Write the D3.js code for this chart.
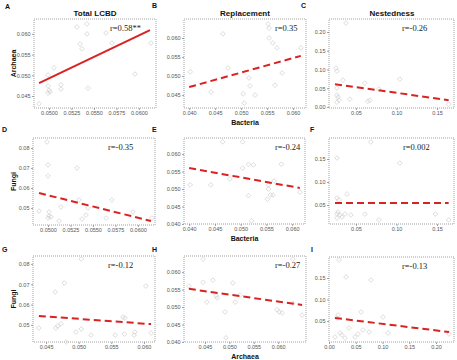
<!DOCTYPE html>
<html>
<head>
<meta charset="utf-8">
<script src="https://cdn.jsdelivr.net/npm/d3@7"></script>
<style>
  body { margin: 0; background: #fff; }
  svg { display: block; }
</style>
</head>
<body>
<div id="chart"></div>
<script>
// Panel data: [x, y] pairs
const ptsA = [[0.04889,0.0431],[0.04989,0.0501],[0.04989,0.0474],[0.0500,0.0464],[0.05011,0.0460],[0.04989,0.0457],[0.05055,0.0518],[0.05133,0.0477],[0.05133,0.0467],[0.05311,0.0617],[0.05345,0.0576],[0.05367,0.0564],[0.05422,0.0624],[0.05422,0.0600],[0.05434,0.0469],[0.05634,0.0602],[0.05700,0.0578],[0.05956,0.0503],[0.06134,0.0578]];
const ptsB = [[0.0402,0.0511],[0.0465,0.0611],[0.0442,0.0458],[0.0475,0.0521],[0.0515,0.0495],[0.0517,0.0474],[0.0504,0.0453],[0.0506,0.0429],[0.0527,0.0450],[0.0552,0.0637],[0.0554,0.0626],[0.0554,0.0600],[0.0561,0.0587],[0.0569,0.0574],[0.0579,0.0508],[0.0565,0.0476],[0.0615,0.0574]];
const ptsC = [[0.0377,0.2240],[0.0254,0.1037],[0.0266,0.0957],[0.0340,0.0716],[0.0266,0.0502],[0.0266,0.0315],[0.0278,0.0261],[0.0291,0.0181],[0.0266,0.0128],[0.0426,0.0208],[0.0610,0.0636],[0.0647,0.0154],[0.0672,0.0181],[0.0783,0.0476],[0.1041,0.0743],[0.1643,0.0074]];
const ptsD = [[0.04989,0.0830],[0.0500,0.0715],[0.0500,0.0660],[0.05322,0.0700],[0.0490,0.0485],[0.05011,0.0480],[0.05011,0.0460],[0.05033,0.0455],[0.05000,0.0450],[0.05144,0.0505],[0.05122,0.0435],[0.05345,0.0540],[0.05445,0.0500],[0.05422,0.0465],[0.05378,0.0445],[0.05711,0.0540],[0.05645,0.0450],[0.05945,0.0480],[0.06156,0.0450]];
const ptsE = [[0.0402,0.0512],[0.0442,0.0512],[0.0465,0.0635],[0.0504,0.0635],[0.0504,0.0560],[0.0515,0.0571],[0.0525,0.0569],[0.0515,0.0481],[0.0521,0.0409],[0.0554,0.0512],[0.0554,0.0500],[0.0558,0.0483],[0.0552,0.0471],[0.0563,0.0483],[0.0565,0.0523],[0.0579,0.0571],[0.0615,0.0491],[0.0479,0.0529]];
const ptsF = [[0.0266,0.1522],[0.0684,0.1870],[0.1041,0.1413],[0.0389,0.0739],[0.0266,0.0652],[0.0291,0.0609],[0.0278,0.0348],[0.0266,0.0304],[0.0303,0.0283],[0.0328,0.0239],[0.0266,0.0217],[0.0365,0.0304],[0.0438,0.0283],[0.0610,0.0304],[0.0783,0.0174],[0.1479,0.0304],[0.1643,0.0174]];
const ptsG = [[0.0439,0.0485],[0.0464,0.0662],[0.0478,0.0706],[0.0468,0.0495],[0.0473,0.0505],[0.0465,0.0485],[0.0481,0.0416],[0.0504,0.0824],[0.0496,0.0465],[0.0504,0.0480],[0.0519,0.0450],[0.0556,0.0450],[0.0568,0.0539],[0.0571,0.0534],[0.0570,0.0455],[0.0586,0.0465],[0.0585,0.0450],[0.0603,0.0691],[0.0611,0.0460]];
const ptsH = [[0.0417,0.0560],[0.0446,0.0637],[0.0446,0.0571],[0.0454,0.0514],[0.0466,0.0577],[0.0473,0.0532],[0.0475,0.0526],[0.0491,0.0486],[0.0493,0.0412],[0.0507,0.0569],[0.0512,0.0514],[0.0522,0.0534],[0.0598,0.0492],[0.0602,0.0486],[0.0608,0.0483],[0.0630,0.0637],[0.0630,0.0511],[0.0649,0.0477]];
const ptsI = [[0.0187,0.1918],[0.0318,0.1523],[0.0785,0.1453],[0.0168,0.0640],[0.0150,0.0570],[0.0598,0.0709],[0.1009,0.0593],[0.0206,0.0221],[0.0243,0.0174],[0.0112,0.0128],[0.0299,0.0105],[0.0374,0.0337],[0.0486,0.0128],[0.0542,0.0198],[0.0635,0.0291],[0.0748,0.0244],[0.1103,0.0221],[0.2243,0.0198]];

// fitted lines [x0, y0, x1, y1]
const fits = [
  [0.04889,0.0481,0.06123,0.0609],
  [0.0400,0.0471,0.0615,0.0553],
  [0.0242,0.0609,0.1643,0.0181],
  [0.0490,0.0575,0.06145,0.0435],
  [0.0400,0.0560,0.0615,0.0503],
  [0.0242,0.0544,0.1643,0.0544],
  [0.0439,0.0544,0.0611,0.0504],
  [0.0417,0.0552,0.0649,0.0506],
  [0.0112,0.0570,0.2243,0.0244]
];
const rLabels = ["r=0.58**", "r=0.35", "r=-0.26", "r=-0.35", "r=-0.24", "r=0.002", "r=-0.12", "r=-0.27", "r=-0.13"];
const letters = ["A", "B", "C", "D", "E", "F", "G", "H", "I"];
const titles = ["Total LCBD", "Replacement", "Nestedness"];
const xLabels = ["", "Bacteria", "", "", "Bacteria", "", "", "Archaea", ""];
const yLabels = ["Archaea", "", "", "Fungi", "", "", "Fungi", "", ""];

// tick values per panel
const xTicksA = [0.05, 0.0525, 0.055, 0.0575, 0.06];
const xTicksB = [0.04, 0.045, 0.05, 0.055, 0.06];
const xTicksC = [0.05, 0.10, 0.15];
const xTicksG = [0.045, 0.05, 0.055, 0.06];
const xTicksI = [0, 0.05, 0.10, 0.15, 0.20];
const yTicksA = [0.045, 0.05, 0.055, 0.06];
const yTicksB = [0.045, 0.05, 0.055, 0.06];
const yTicksC = [0, 0.05, 0.10, 0.15, 0.20];
const yTicksD = [0.05, 0.06, 0.07, 0.08];
const yTicksE = [0.04, 0.045, 0.05, 0.055, 0.06];
const yTicksF = [0.05, 0.10, 0.15];
const yTicksI = [0.05, 0.10, 0.15];

const allPts = [ptsA, ptsB, ptsC, ptsD, ptsE, ptsF, ptsG, ptsH, ptsI];

// layout: box [left, right, top, bottom], domains, ticks
const panels = [
  { box: [34,156,19,108],  xd: [0.04833,0.0619], yd: [0.0421,0.0636], xt: xTicksA, xf: ".4f", yt: yTicksA, yf: ".3f", rx: 76, solid: true },
  { box: [184,306,19,108], xd: [0.039,0.0625],   yd: [0.0416,0.065],  xt: xTicksB, xf: ".3f", yt: yTicksB, yf: ".3f", rx: 91 },
  { box: [329,454,19,108], xd: [0.0168,0.1709],  yd: [-0.0027,0.2347],xt: xTicksC, xf: ".2f", yt: yTicksC, yf: ".2f", rx: 73 },
  { box: [33,155,138,225], xd: [0.04833,0.0619], yd: [0.0415,0.085],  xt: xTicksA, xf: ".4f", yt: yTicksD, yf: ".2f", rx: 75 },
  { box: [184,305,138,224],xd: [0.039,0.0625],   yd: [0.040,0.0646],  xt: xTicksB, xf: ".3f", yt: yTicksE, yf: ".3f", rx: 91 },
  { box: [329,454,138,224],xd: [0.0168,0.1709],  yd: [0.0087,0.1957], xt: xTicksC, xf: ".2f", yt: yTicksF, yf: ".2f", rx: 74 },
  { box: [33,155,256,342], xd: [0.043,0.0617],   yd: [0.0416,0.0839], xt: xTicksG, xf: ".3f", yt: yTicksD, yf: ".2f", rx: 75 },
  { box: [184,306,256,342],xd: [0.0407,0.0657],  yd: [0.040,0.0646],  xt: xTicksG, xf: ".3f", yt: yTicksE, yf: ".3f", rx: 91 },
  { box: [329,454,257,342],xd: [0,0.2336],       yd: [0.0012,0.1988], xt: xTicksI, xf: ".2f", yt: yTicksI, yf: ".2f", rx: 73 }
];

const svg = d3.select("#chart").append("svg")
  .attr("width", 457)
  .attr("height", 360)
  .style("background", "#fff");

const sans = "Liberation Sans, Arial, sans-serif";
const serif = "Liberation Serif, Times New Roman, serif";

// column titles
titles.forEach((t, i) => {
  svg.append("text")
    .attr("x", [95, 245, 392][i])
    .attr("y", 16)
    .attr("text-anchor", "middle")
    .attr("font-family", sans)
    .attr("font-weight", "bold")
    .attr("font-size", 8)
    .attr("fill", "#111")
    .text(t);
});

// panel letter positions
const letterPos = [[5,9],[152,8],[301,8],[2,132],[152,132],[310,132],[2,252],[152,252],[311,252]];

panels.forEach((p, i) => {
  const [l, r, t, b] = p.box;
  const x = d3.scaleLinear().domain(p.xd).range([l, r]);
  const y = d3.scaleLinear().domain(p.yd).range([b, t]);
  const g = svg.append("g");

  // dotted frame
  g.append("rect")
    .attr("x", l).attr("y", t)
    .attr("width", r - l).attr("height", b - t)
    .attr("fill", "none")
    .attr("stroke", "#8a8a8a")
    .attr("stroke-width", 0.8)
    .attr("stroke-dasharray", "1,1");

  // axes
  const xa = g.append("g")
    .attr("transform", `translate(0,${b})`)
    .call(d3.axisBottom(x).tickValues(p.xt).tickFormat(d3.format(p.xf)).tickSize(2).tickPadding(1.5));
  const ya = g.append("g")
    .attr("transform", `translate(${l},0)`)
    .call(d3.axisLeft(y).tickValues(p.yt).tickFormat(d3.format(p.yf)).tickSize(2).tickPadding(1.5));
  [xa, ya].forEach(a => {
    a.select(".domain").remove();
    a.selectAll("line").attr("stroke", "#666").attr("stroke-width", 0.6);
    a.selectAll("text")
      .attr("font-family", sans)
      .attr("font-size", 5.5)
      .attr("fill", "#555");
  });

  // points
  g.append("g")
    .selectAll("path")
    .data(allPts[i])
    .join("path")
    .attr("transform", d => `translate(${x(d[0])},${y(d[1])})`)
    .attr("d", d3.symbol(d3.symbolDiamond2, 14))
    .attr("fill", "none")
    .attr("stroke", "#c4c4c4")
    .attr("stroke-width", 0.6);

  // fitted line
  const f = fits[i];
  g.append("line")
    .attr("x1", x(f[0])).attr("y1", y(f[1]))
    .attr("x2", x(f[2])).attr("y2", y(f[3]))
    .attr("stroke", "#d92323")
    .attr("stroke-width", 2)
    .attr("stroke-dasharray", p.solid ? null : "7,4");

  // r label
  g.append("text")
    .attr("x", l + p.rx)
    .attr("y", t + 12)
    .attr("font-family", serif)
    .attr("font-size", 8.5)
    .attr("fill", "#222")
    .text(rLabels[i]);

  // panel letter
  svg.append("text")
    .attr("x", letterPos[i][0])
    .attr("y", letterPos[i][1])
    .attr("font-family", sans)
    .attr("font-weight", "bold")
    .attr("font-size", 7)
    .attr("fill", "#111")
    .text(letters[i]);

  if (xLabels[i]) {
    svg.append("text")
      .attr("x", (l + r) / 2)
      .attr("y", b + 17)
      .attr("text-anchor", "middle")
      .attr("font-family", sans)
      .attr("font-weight", "bold")
      .attr("font-size", 7)
      .attr("fill", "#111")
      .text(xLabels[i]);
  }
  if (yLabels[i]) {
    svg.append("text")
      .attr("transform", `translate(16,${(t + b) / 2}) rotate(-90)`)
      .attr("text-anchor", "middle")
      .attr("font-family", sans)
      .attr("font-weight", "bold")
      .attr("font-size", 7)
      .attr("fill", "#111")
      .text(yLabels[i]);
  }
});
</script>
</body>
</html>
